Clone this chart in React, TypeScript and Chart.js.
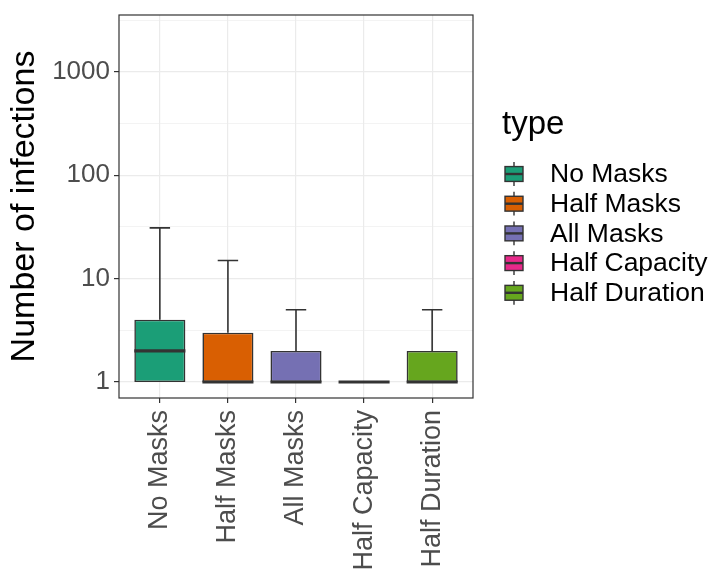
import React, { useEffect, useRef } from 'react';
import { Chart, registerables } from 'chart.js';

Chart.register(...registerables);

const categories = ['No Masks', 'Half Masks', 'All Masks', 'Half Capacity', 'Half Duration'];
const boxColors = ['#1B9E77', '#D95F02', '#7570B3', '#E7298A', '#66A61E'];
const whiskerLow = [1, 1, 1, 1, 1];
const q1 = [1, 1, 1, 1, 1];
const median = [2, 1, 1, 1, 1];
const q3 = [4, 3, 2, 1, 2];
const whiskerHigh = [31, 15, 5, 1, 5];

const yMajorTicks = [1, 10, 100, 1000];
const yMinorTicks = [3.1623, 31.623, 316.23, 3162.3];
const legendTitle = 'type';
const yTitle = 'Number of infections';

const FONT = '"Liberation Sans", Arial, Helvetica, sans-serif';
const DARK = '#333333';

const boxPlugin = {
  id: 'boxExtras',
  afterDatasetsDraw(chart: any) {
    const { ctx, scales } = chart;
    const x = scales.x;
    const y = scales.y;
    const unit = x.getPixelForValue(1) - x.getPixelForValue(0);
    ctx.save();
    ctx.strokeStyle = DARK;
    ctx.lineCap = 'butt';
    categories.forEach((_, i) => {
      const cx = x.getPixelForValue(i);
      const cap = unit * 0.15;
      ctx.lineWidth = 1.6;
      ctx.beginPath();
      ctx.moveTo(cx, y.getPixelForValue(q3[i]));
      ctx.lineTo(cx, y.getPixelForValue(whiskerHigh[i]));
      ctx.moveTo(cx - cap, y.getPixelForValue(whiskerHigh[i]));
      ctx.lineTo(cx + cap, y.getPixelForValue(whiskerHigh[i]));
      ctx.moveTo(cx, y.getPixelForValue(q1[i]));
      ctx.lineTo(cx, y.getPixelForValue(whiskerLow[i]));
      ctx.stroke();
      const half = unit * 0.375;
      ctx.lineWidth = 3.2;
      ctx.beginPath();
      ctx.moveTo(cx - half, y.getPixelForValue(median[i]));
      ctx.lineTo(cx + half, y.getPixelForValue(median[i]));
      ctx.stroke();
    });
    ctx.restore();
  },
  afterDraw(chart: any) {
    const { ctx, chartArea } = chart;
    ctx.save();
    ctx.strokeStyle = DARK;
    ctx.lineWidth = 1.2;
    ctx.strokeRect(chartArea.left, chartArea.top, chartArea.right - chartArea.left, chartArea.bottom - chartArea.top);

    const lx = 502;
    ctx.fillStyle = '#000';
    ctx.font = `33px ${FONT}`;
    ctx.textBaseline = 'alphabetic';
    ctx.textAlign = 'left';
    ctx.fillText(legendTitle, lx, 134);

    const keyH = 29.7;
    const keyW = 24;
    categories.forEach((name, i) => {
      const cy = 174 + i * keyH;
      const top = cy - keyH / 2;
      const kcx = lx + keyW / 2;
      ctx.strokeStyle = DARK;
      ctx.lineWidth = 1.4;
      ctx.beginPath();
      ctx.moveTo(kcx, top + keyH * 0.1);
      ctx.lineTo(kcx, top + keyH * 0.9);
      ctx.stroke();
      const bx = lx + keyW * 0.125;
      const bw = keyW * 0.75;
      const by = top + keyH * 0.25;
      const bh = keyH * 0.5;
      ctx.fillStyle = boxColors[i];
      ctx.fillRect(bx, by, bw, bh);
      ctx.strokeRect(bx, by, bw, bh);
      ctx.lineWidth = 2.4;
      ctx.beginPath();
      ctx.moveTo(bx, cy);
      ctx.lineTo(bx + bw, cy);
      ctx.stroke();
      ctx.fillStyle = '#000';
      ctx.font = `26.5px ${FONT}`;
      ctx.textBaseline = 'middle';
      ctx.fillText(name, 550, cy + 1);
    });
    ctx.restore();
  },
};

export default function App() {
  const ref = useRef<HTMLCanvasElement>(null);

  useEffect(() => {
    if (!ref.current) return;
    const allYTicks = [...yMajorTicks, ...yMinorTicks].sort((a, b) => a - b);
    const isMajor = (v: number) => yMajorTicks.includes(v);
    const chart = new Chart(ref.current, {
      type: 'bar',
      data: {
        datasets: [
          {
            label: 'box',
            data: categories.map((_, i) => ({ x: i, y: [q1[i], q3[i]] })) as any,
            backgroundColor: boxColors,
            borderColor: DARK,
            borderWidth: 1.6,
            borderSkipped: false,
            barPercentage: 0.75,
            categoryPercentage: 1,
          },
        ],
      },
      options: {
        animation: false,
        responsive: false,
        events: [],
        layout: { padding: { left: 0, right: 239, top: 15, bottom: 0 } },
        plugins: { legend: { display: false }, tooltip: { enabled: false } },
        scales: {
          x: {
            type: 'linear',
            min: -0.6,
            max: 4.6,
            offset: false,
            afterBuildTicks: (s: any) => {
              s.ticks = categories.map((_, i) => ({ value: i }));
            },
            afterFit: (s: any) => {
              s.height = 569 - 398;
            },
            ticks: {
              callback: (v: any) => categories[v as number] ?? '',
              autoSkip: false,
              maxRotation: 90,
              minRotation: 90,
              color: '#4d4d4d',
              padding: 7,
              font: { family: FONT, size: 27, lineHeight: 1 },
            },
            grid: {
              offset: false,
              color: '#ebebeb',
              lineWidth: 1.2,
              tickLength: 5,
              tickColor: DARK,
            },
            border: { display: false },
          },
          y: {
            type: 'logarithmic',
            min: 0.705,
            max: 3556,
            afterBuildTicks: (s: any) => {
              s.ticks = allYTicks.map((v) => ({ value: v }));
            },
            afterFit: (s: any) => {
              s.width = 119;
            },
            ticks: {
              callback: (v: any) => (isMajor(v as number) ? String(v) : ''),
              autoSkip: false,
              color: '#4d4d4d',
              padding: 4,
              font: { family: FONT, size: 26, lineHeight: 0.8 },
            },
            grid: {
              color: '#ebebeb',
              lineWidth: (c: any) => (c.tick && isMajor(c.tick.value) ? 1.2 : 0.6),
              tickLength: 5,
              tickColor: (c: any) => (c.tick && isMajor(c.tick.value) ? DARK : 'rgba(0,0,0,0)'),
            },
            border: { display: false },
            title: {
              display: true,
              text: yTitle,
              color: '#000',
              font: { family: FONT, size: 34 },
              padding: { top: 4.6, bottom: 0 },
            },
          },
        },
      },
      plugins: [boxPlugin],
    });
    return () => chart.destroy();
  }, []);

  return (
    <div style={{ position: 'fixed', left: 0, top: 0, width: 712, height: 569, background: '#fff' }}>
      <canvas ref={ref} width={712} height={569} />
    </div>
  );
}
